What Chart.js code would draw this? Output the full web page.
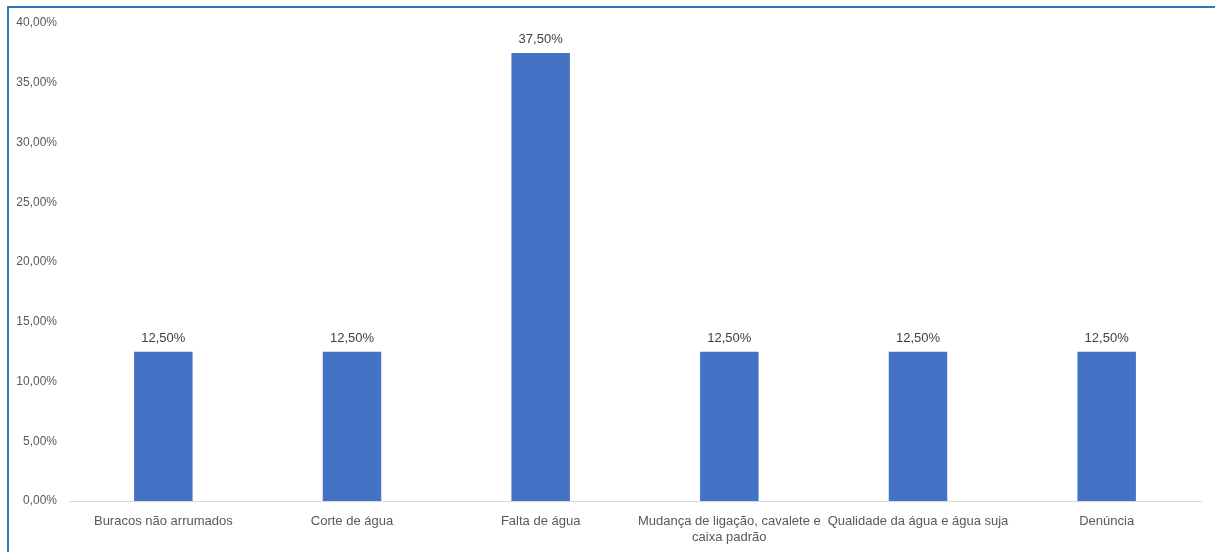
<!DOCTYPE html>
<html>
<head>
<meta charset="utf-8">
<script src="https://cdn.jsdelivr.net/npm/chart.js@4.4.1/dist/chart.umd.min.js"></script>
<style>
  html, body { margin: 0; padding: 0; background: #fff; }
  #frame {
    position: absolute; left: 7px; top: 6px; width: 1208px; height: 546px;
    border-top: 2px solid #2e75b6; border-left: 2px solid #2e75b6; box-sizing: border-box;
  }
  #wrap { position: absolute; left: 0; top: 0; width: 1215px; height: 552px; }
</style>
</head>
<body>
<div id="frame"></div>
<div id="wrap"><canvas id="chart" width="1215" height="552"></canvas></div>
<script>
const categories = [
  'Buracos não arrumados',
  'Corte de água',
  'Falta de água',
  ['Mudança de ligação, cavalete e', 'caixa padrão'],
  'Qualidade da água e água suja',
  'Denúncia'
];
const shares = [12.5, 12.5, 37.5, 12.5, 12.5, 12.5];
const yTicks = [0, 5, 10, 15, 20, 25, 30, 35, 40];

const fmt = v => v.toFixed(2).replace('.', ',') + '%';

// value labels above each bar
const valueLabels = {
  id: 'valueLabels',
  afterDatasetsDraw(chart) {
    const ctx = chart.ctx;
    const meta = chart.getDatasetMeta(0);
    ctx.save();
    ctx.font = '13px "Liberation Sans", Arial, sans-serif';
    ctx.fillStyle = '#404040';
    ctx.textAlign = 'center';
    ctx.textBaseline = 'bottom';
    meta.data.forEach((bar, i) => {
      ctx.fillText(fmt(shares[i]), bar.x, bar.y - 7);
    });
    ctx.restore();
  }
};

new Chart(document.getElementById('chart'), {
  type: 'bar',
  data: {
    labels: categories,
    datasets: [{
      data: shares,
      backgroundColor: '#4472c4',
      barPercentage: 0.31,
      categoryPercentage: 1
    }]
  },
  options: {
    responsive: false,
    animation: false,
    layout: { padding: { top: 23, right: 14, bottom: 0, left: 0 } },
    plugins: { legend: { display: false }, tooltip: { enabled: false } },
    scales: {
      x: {
        grid: { display: false },
        border: { display: true, color: '#d9d9d9', width: 1 },
        ticks: {
          color: '#595959',
          font: { family: '"Liberation Sans", Arial, sans-serif', size: 13 },
          padding: 5,
          maxRotation: 0,
          autoSkip: false
        },
        afterFit(scale) { scale.height = 51; }
      },
      y: {
        min: 0,
        max: 40,
        grid: { display: false },
        border: { display: false },
        afterBuildTicks(scale) { scale.ticks = yTicks.map(v => ({ value: v })); },
        ticks: {
          color: '#595959',
          font: { family: '"Liberation Sans", Arial, sans-serif', size: 12 },
          padding: 4,
          callback: v => fmt(v)
        },
        afterFit(scale) { scale.width = 69; }
      }
    }
  },
  plugins: [valueLabels]
});
</script>
</body>
</html>
